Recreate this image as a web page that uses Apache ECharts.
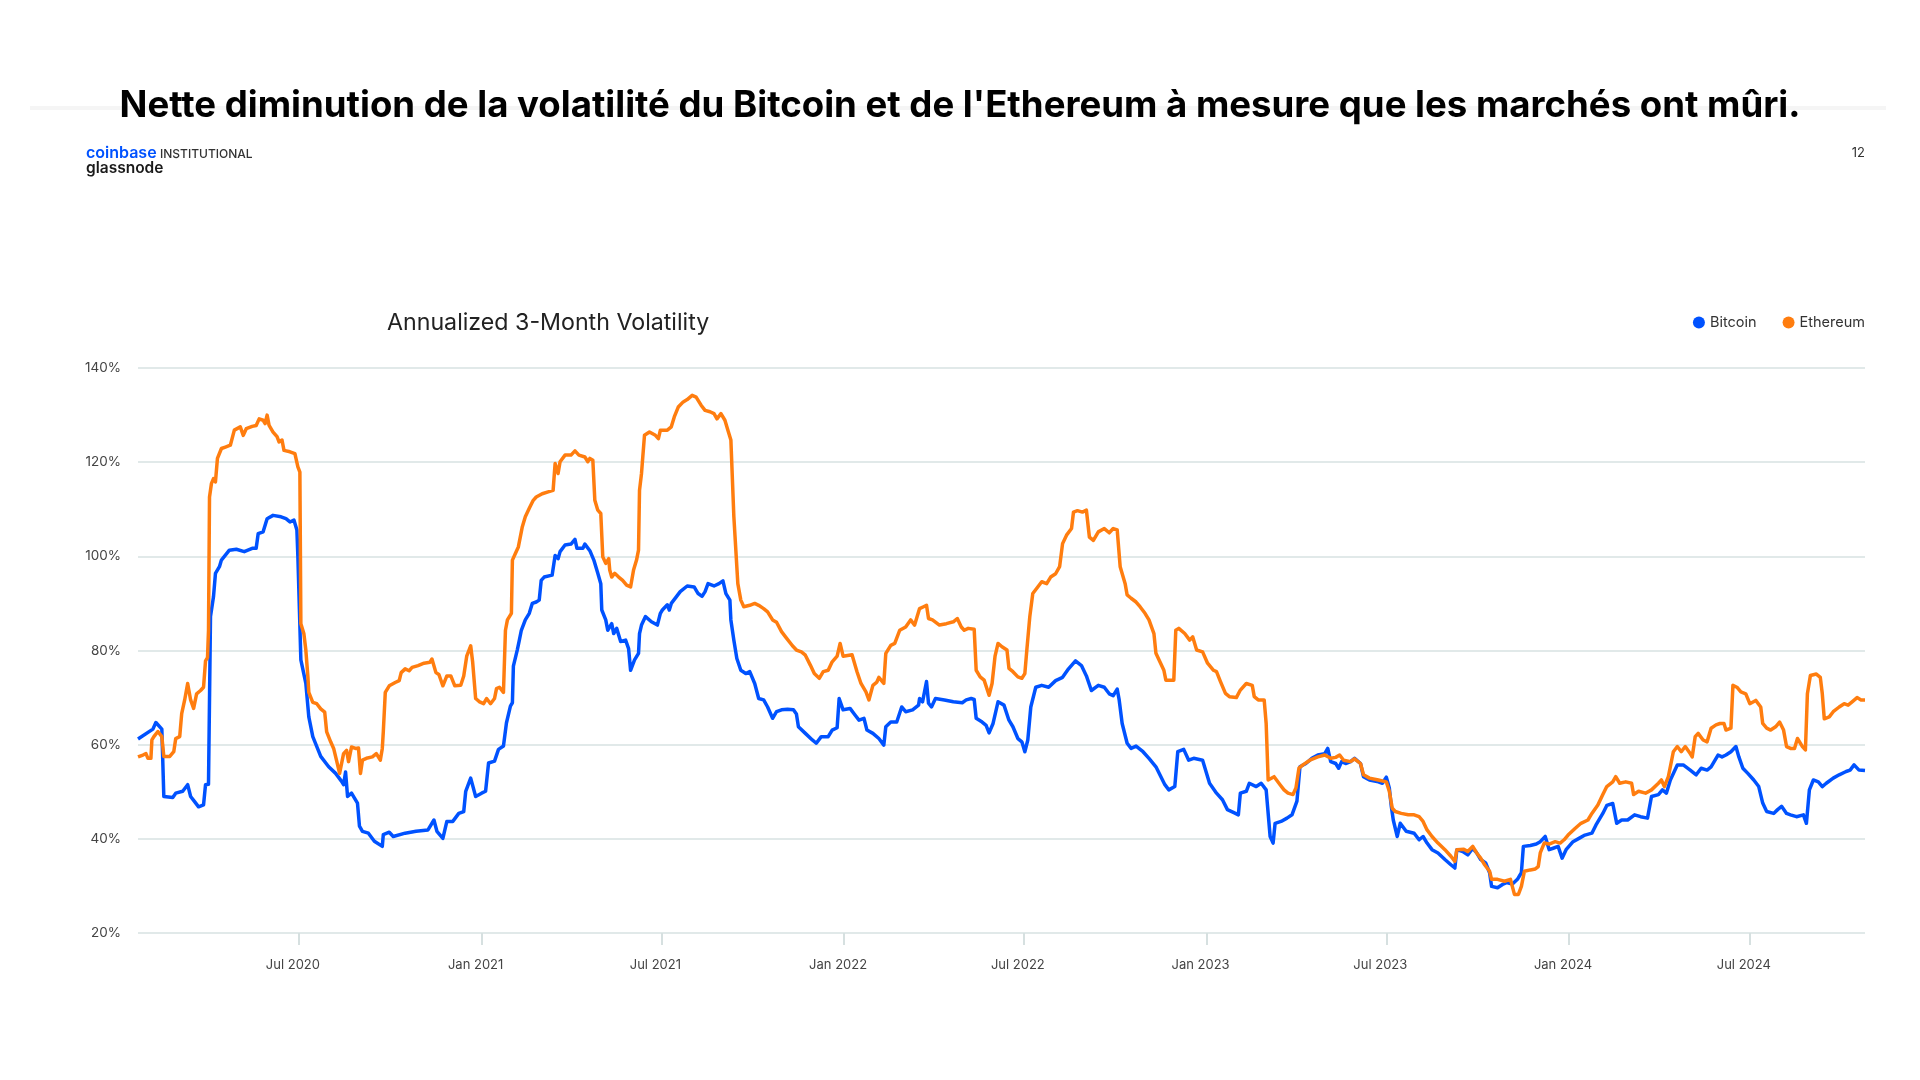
<!DOCTYPE html>
<html>
<head>
<meta charset="utf-8">
<script src="https://cdn.jsdelivr.net/npm/echarts@6/dist/echarts.min.js"></script>
<style>
  html, body { margin: 0; padding: 0; background: #ffffff; }
  #chart { width: 1920px; height: 1080px; }
</style>
</head>
<body>
<div id="chart"></div>
<script>
// ---- Data (x = days since 2020-01-01, y = annualized 3-month volatility in %) ----
const seriesNames = ['Bitcoin', 'Ethereum'];

const bitcoinPoints = [
  [20,61.2],[35,63.3],[38,64.7],[40,64.5],[44,63.3],[46,49.0],[55,48.8],[58,49.7],[65,50.1],[70,51.5],
  [73,49.0],[77,47.9],[81,46.8],[86,47.2],[88,51.5],[91,51.6],[93,87.2],[96,91.4],[98,96.4],[102,97.8],
  [104,99.2],[112,101.3],[119,101.5],[127,101.0],[135,101.7],[139,101.7],[141,104.8],[146,105.2],[150,108.0],[156,108.7],
  [164,108.4],[169,108.0],[173,107.3],[177,107.7],[180,105.6],[181,99.9],[184,78.0],[189,73.0],[192,65.9],[196,61.7],
  [204,57.5],[212,55.3],[219,53.9],[225,52.2],[227,51.5],[229,54.2],[231,49.0],[235,49.7],[241,47.6],[243,42.7],
  [246,41.6],[252,41.2],[258,39.5],[266,38.4],[267,40.9],[273,41.4],[277,40.5],[289,41.2],[300,41.6],[312,41.9],
  [318,44.0],[321,41.6],[327,40.1],[331,43.7],[337,43.7],[343,45.4],[348,45.8],[350,50.1],[355,52.9],[360,49.0],
  [366,49.7],[370,50.1],[373,56.1],[379,56.5],[383,59.0],[388,59.7],[391,64.6],[395,68.2],[397,68.9],[398,76.7],
  [402,80.2],[404,82.2],[406,84.3],[410,86.5],[414,87.9],[417,90.0],[421,90.3],[424,90.7],[426,94.9],[429,95.6],
  [437,96.0],[440,100.2],[443,99.5],[445,101.0],[450,102.4],[456,102.6],[460,103.6],[462,101.7],[468,101.7],[470,102.6],
  [475,101.2],[479,99.2],[483,96.4],[486,94.2],[487,88.6],[491,86.5],[493,84.3],[497,85.7],[499,83.6],[502,84.7],
  [506,81.9],[511,82.2],[514,80.4],[516,75.8],[520,78.0],[524,79.4],[525,83.6],[527,85.4],[531,87.2],[537,86.1],
  [543,85.4],[546,87.9],[548,88.6],[553,89.7],[555,88.6],[557,90.0],[562,91.4],[566,92.5],[573,93.7],[580,93.5],
  [584,92.1],[588,91.5],[591,92.5],[594,94.2],[600,93.7],[605,94.2],[609,94.8],[612,92.1],[616,90.7],[617,86.5],
  [620,82.2],[623,78.3],[627,75.8],[632,75.1],[636,75.5],[641,73.0],[645,69.8],[650,69.5],[654,68.0],[659,65.6],
  [663,67.0],[668,67.4],[674,67.5],[680,67.4],[683,66.5],[685,63.8],[692,62.4],[699,61.0],[703,60.3],[708,61.7],
  [715,61.7],[719,63.1],[724,63.6],[726,69.8],[730,67.4],[737,67.7],[742,66.3],[746,65.2],[751,65.6],[754,63.1],
  [760,62.4],[766,61.3],[771,59.9],[773,63.8],[778,64.8],[784,64.8],[789,68.0],[793,67.0],[800,67.4],[806,68.4],
  [807,69.8],[810,69.1],[814,73.4],[816,68.8],[819,68.0],[823,69.8],[832,69.5],[841,69.1],[850,68.9],[854,69.5],
  [859,69.8],[862,69.6],[864,65.6],[870,64.8],[874,64.1],[877,62.5],[881,64.5],[886,69.1],[892,68.4],[897,65.2],
  [901,63.8],[906,61.3],[910,60.6],[913,58.5],[916,61.0],[919,68.0],[924,72.2],[930,72.6],[937,72.2],[944,73.6],
  [951,74.3],[957,76.1],[964,77.8],[970,76.8],[975,74.6],[980,71.5],[987,72.6],[993,72.2],[998,70.8],[1002,70.4],
  [1006,71.8],[1008,69.5],[1011,64.5],[1016,60.3],[1020,59.2],[1025,59.7],[1032,58.5],[1038,57.1],[1045,55.3],[1049,53.6],
  [1054,51.5],[1058,50.4],[1064,51.1],[1067,58.5],[1073,59.0],[1078,56.7],[1083,57.1],[1092,56.7],[1099,51.8],[1106,49.7],
  [1112,48.3],[1117,46.2],[1124,45.5],[1128,45.1],[1130,49.7],[1136,50.1],[1139,51.8],[1146,51.1],[1151,51.8],[1156,50.4],
  [1160,40.5],[1163,39.1],[1165,43.3],[1171,43.7],[1177,44.4],[1182,45.1],[1187,48.0],[1190,55.3],[1196,56.0],[1202,57.1],
  [1208,57.8],[1215,58.1],[1218,59.2],[1221,56.4],[1226,56.0],[1229,55.0],[1232,56.4],[1236,56.0],[1241,56.4],[1245,57.1],
  [1251,56.0],[1254,53.2],[1260,52.5],[1269,52.1],[1273,51.8],[1277,53.1],[1280,50.8],[1282,46.9],[1284,44.0],[1288,40.5],
  [1291,43.3],[1297,41.6],[1305,41.2],[1310,39.8],[1314,40.5],[1318,39.1],[1323,37.7],[1329,37.0],[1336,35.6],[1342,34.5],
  [1346,33.8],[1348,37.7],[1354,37.3],[1359,36.6],[1364,38.0],[1368,37.0],[1372,35.6],[1377,34.9],[1381,32.8],[1383,29.9],
  [1389,29.6],[1394,30.3],[1398,30.7],[1404,30.4],[1409,31.4],[1413,32.8],[1415,38.4],[1422,38.6],[1428,38.9],[1432,39.4],
  [1437,40.5],[1441,37.7],[1445,38.0],[1450,38.4],[1454,35.9],[1458,37.7],[1465,39.4],[1471,40.1],[1477,40.8],[1484,41.2],
  [1488,42.9],[1495,45.4],[1499,47.1],[1505,47.5],[1509,43.3],[1514,44.0],[1520,44.0],[1527,45.1],[1533,44.7],[1540,44.4],
  [1544,49.0],[1551,49.4],[1555,50.4],[1559,49.7],[1563,52.5],[1570,55.7],[1576,55.7],[1583,54.6],[1589,53.6],[1594,55.0],
  [1600,54.6],[1604,55.3],[1611,57.8],[1615,57.4],[1619,57.8],[1624,58.5],[1629,59.6],[1632,57.4],[1636,55.0],[1641,53.9],
  [1647,52.5],[1652,51.1],[1656,47.6],[1660,45.8],[1667,45.4],[1671,46.2],[1675,46.9],[1680,45.4],[1684,45.1],[1690,44.7],
  [1697,45.1],[1700,43.3],[1703,50.4],[1707,52.5],[1712,52.1],[1716,51.1],[1720,51.8],[1727,52.9],[1733,53.6],[1740,54.3],
  [1744,54.6],[1748,55.7],[1753,54.6],[1759,54.5]
];

const ethereumPoints = [
  [20,57.4],[25,57.8],[28,58.1],[30,57.1],[33,57.1],[34,61.0],[36,61.7],[40,62.8],[42,63.1],[44,61.7],
  [46,57.5],[52,57.5],[56,58.5],[58,61.3],[62,61.7],[64,66.6],[67,69.5],[70,73.0],[73,69.5],[76,67.7],
  [79,70.8],[83,71.5],[86,72.2],[88,77.8],[90,78.5],[91,84.3],[92,112.6],[94,115.5],[96,116.5],[98,115.8],
  [100,120.8],[104,122.9],[108,123.2],[113,123.6],[117,126.8],[123,127.5],[126,125.7],[129,127.1],[135,127.6],[139,127.8],
  [142,129.2],[146,128.9],[148,128.2],[150,130.0],[152,127.8],[156,126.4],[160,125.4],[162,124.3],[165,124.7],[167,122.5],
  [173,122.2],[178,121.8],[181,119.0],[183,117.9],[184,85.7],[187,83.6],[189,80.1],[191,74.6],[192,71.1],[196,69.0],
  [200,68.7],[204,67.6],[208,66.9],[210,62.7],[214,60.6],[217,59.2],[221,55.7],[223,53.9],[227,58.1],[230,58.8],
  [232,56.4],[235,59.5],[239,59.2],[242,59.3],[244,53.9],[246,56.7],[250,57.1],[256,57.4],[260,58.1],[264,56.7],
  [266,59.2],[267,62.7],[269,71.1],[273,72.5],[279,73.2],[283,73.6],[285,75.3],[289,76.1],[293,75.7],[296,76.4],
  [302,76.8],[308,77.3],[314,77.5],[316,78.2],[320,75.3],[323,74.9],[327,72.5],[331,74.6],[335,74.6],[339,72.5],
  [345,72.6],[348,74.6],[351,78.8],[355,81.0],[357,77.5],[360,69.8],[364,69.1],[368,68.7],[371,69.8],[375,68.7],
  [379,69.8],[381,71.9],[384,72.2],[388,71.1],[390,84.3],[392,86.5],[396,87.9],[397,99.2],[400,100.6],[403,102.0],
  [407,106.3],[410,108.4],[414,110.2],[418,111.9],[421,112.6],[427,113.3],[433,113.7],[438,114.0],[440,119.7],[443,117.6],
  [445,120.1],[450,121.5],[456,121.5],[460,122.4],[464,121.5],[470,121.1],[473,120.1],[475,120.8],[478,120.4],[480,111.9],
  [483,109.8],[486,109.1],[488,99.9],[491,98.5],[494,99.5],[495,97.1],[497,95.6],[500,96.4],[504,95.6],[508,94.9],
  [512,93.9],[516,93.5],[519,97.1],[522,99.2],[524,101.3],[525,114.0],[527,117.6],[530,125.7],[535,126.4],[541,125.7],
  [544,125.0],[546,126.8],[553,126.8],[557,127.5],[560,129.6],[564,131.7],[569,132.8],[573,133.3],[578,134.2],[582,133.8],
  [587,132.1],[591,131.0],[596,130.7],[600,130.3],[603,129.2],[607,130.3],[611,128.9],[614,126.8],[617,124.7],[620,108.4],
  [624,94.2],[627,90.7],[630,89.3],[636,89.6],[641,90.0],[645,89.6],[650,88.9],[654,88.2],[659,86.5],[663,86.0],
  [668,84.0],[672,82.9],[679,81.0],[683,80.1],[688,79.7],[692,79.0],[697,76.9],[701,75.1],[706,74.1],[710,75.5],
  [715,75.8],[719,77.6],[724,78.8],[727,81.5],[730,78.8],[739,79.1],[744,75.5],[748,73.0],[753,71.2],[756,69.5],
  [760,72.6],[764,73.3],[766,74.3],[771,73.0],[773,79.4],[778,81.1],[782,81.5],[787,84.3],[793,85.0],[798,86.5],
  [802,85.4],[807,88.9],[811,89.3],[814,89.6],[816,86.8],[820,86.5],[827,85.4],[834,85.7],[841,86.1],[845,86.8],
  [849,85.0],[852,84.3],[856,84.7],[862,84.5],[864,75.8],[868,74.4],[872,73.7],[877,70.5],[880,73.0],[883,78.8],
  [886,81.5],[890,80.8],[895,80.1],[897,76.2],[901,75.5],[906,74.4],[910,74.1],[913,75.1],[915,80.1],[918,87.2],
  [921,92.1],[926,93.5],[930,94.6],[935,94.2],[939,95.6],[944,96.3],[948,97.8],[951,102.7],[955,104.5],[960,105.9],
  [962,109.4],[966,109.7],[971,109.4],[975,109.8],[978,104.1],[982,103.4],[987,105.2],[993,105.9],[998,105.0],[1002,105.9],
  [1006,105.6],[1009,97.8],[1014,94.2],[1016,91.8],[1020,91.1],[1025,90.3],[1029,89.3],[1034,87.9],[1038,86.5],[1043,83.6],
  [1045,79.4],[1049,77.6],[1053,75.8],[1055,73.7],[1063,73.7],[1065,84.3],[1068,84.7],[1074,83.6],[1079,82.2],[1082,82.9],
  [1086,80.1],[1092,79.7],[1097,77.3],[1103,75.8],[1106,75.5],[1110,73.4],[1115,70.9],[1119,70.2],[1126,70.0],[1130,71.6],
  [1136,73.0],[1142,72.6],[1144,70.2],[1148,69.5],[1154,69.5],[1156,64.5],[1158,52.5],[1164,53.2],[1170,51.5],[1174,50.4],
  [1178,49.7],[1183,49.4],[1186,50.8],[1189,55.0],[1193,55.7],[1200,56.7],[1208,57.4],[1215,57.8],[1221,57.1],[1226,57.3],
  [1230,57.8],[1234,56.7],[1241,56.4],[1245,57.0],[1251,56.0],[1254,53.6],[1260,52.9],[1269,52.5],[1277,52.1],[1280,50.1],
  [1283,46.5],[1286,45.8],[1292,45.4],[1299,45.1],[1305,45.1],[1310,44.7],[1314,43.7],[1318,41.9],[1323,40.5],[1329,39.1],
  [1336,37.7],[1342,36.3],[1346,35.2],[1348,37.7],[1355,37.8],[1359,37.3],[1364,38.4],[1368,37.0],[1372,35.9],[1376,34.5],
  [1381,33.1],[1383,31.4],[1389,31.4],[1396,31.0],[1402,31.4],[1406,28.2],[1410,28.2],[1413,29.9],[1416,33.1],[1422,33.4],
  [1427,33.6],[1430,34.1],[1432,37.0],[1436,39.1],[1441,38.9],[1447,39.4],[1452,39.1],[1456,39.8],[1460,40.8],[1467,42.2],
  [1473,43.3],[1480,44.0],[1484,45.4],[1490,47.2],[1495,49.4],[1499,51.1],[1505,52.1],[1508,53.2],[1512,51.8],[1518,52.1],
  [1524,51.8],[1526,49.4],[1531,50.1],[1538,49.7],[1544,50.4],[1551,51.8],[1554,52.5],[1557,51.1],[1561,53.2],[1566,58.5],
  [1570,59.6],[1574,58.5],[1578,59.6],[1583,58.1],[1585,57.4],[1588,61.7],[1591,62.4],[1596,61.0],[1600,60.6],[1604,63.5],
  [1609,64.2],[1613,64.5],[1617,64.5],[1619,63.1],[1624,63.5],[1626,72.6],[1630,72.2],[1634,71.2],[1639,70.8],[1643,68.7],
  [1649,69.4],[1654,68.0],[1656,64.5],[1660,63.5],[1664,63.1],[1669,63.8],[1673,64.8],[1677,63.1],[1680,59.6],[1684,59.2],
  [1688,59.2],[1691,61.3],[1696,59.6],[1699,58.9],[1701,70.8],[1704,74.7],[1710,75.0],[1714,74.3],[1716,70.8],[1718,65.5],
  [1723,65.9],[1727,67.0],[1733,68.0],[1738,68.7],[1742,68.4],[1746,69.1],[1751,70.0],[1755,69.5],[1759,69.5]
];

// x-axis tick dates and their labels
const tickDates = ['2020-07-01','2021-01-01','2021-07-01','2022-01-01','2022-07-01','2023-01-01','2023-07-01','2024-01-01','2024-07-01'];
const tickLabels = ['Jul 2020','Jan 2021','Jul 2021','Jan 2022','Jul 2022','Jan 2023','Jul 2023','Jan 2024','Jul 2024'];
const axisStartDay = 20;   // 2020-01-21
const axisEndDay = 1759;   // 2024-10-25

// y-axis
const yMin = 20, yMax = 140, yStep = 20;

// ---- Helpers ----
const BASE = Date.UTC(2020, 0, 1);
const DAY_MS = 86400000;
const tickDays = tickDates.map(s => Math.round((Date.parse(s + 'T00:00:00Z') - BASE) / DAY_MS));
const labelFor = v => {
  for (let i = 0; i < tickDays.length; i++) {
    if (Math.abs(tickDays[i] - v) < 0.5) return tickLabels[i];
  }
  return '';
};

const FONT = 'Inter, "Noto Sans", sans-serif';
const BLUE = '#0052ff';
const ORANGE = '#ff7d0f';

const chart = echarts.init(document.getElementById('chart'), null, { renderer: 'canvas' });

chart.setOption({
  animation: false,
  backgroundColor: '#ffffff',
  textStyle: { fontFamily: FONT },
  title: [{
    text: "Nette diminution de la volatilité du Bitcoin et de l'Ethereum à mesure que les marchés ont mûri.",
    left: 'center',
    top: 82,
    textStyle: { fontFamily: FONT, fontWeight: 700, fontSize: 36.6, color: '#000000' }
  }],
  graphic: [
    { type: 'rect', silent: true, z: -1, shape: { x: 30, y: 106, width: 1856, height: 4 }, style: { fill: '#f5f5f5' } },
    { type: 'text', left: 86, top: 145, style: { text: 'coinbase', font: '600 16px ' + FONT, fill: BLUE } },
    { type: 'text', left: 160, top: 148, style: { text: 'INSTITUTIONAL', font: '500 12px ' + FONT, fill: '#333333' } },
    { type: 'text', left: 86, top: 160, style: { text: 'glassnode', font: '600 15.5px ' + FONT, fill: '#1a1a1a' } },
    { type: 'text', right: 55, top: 147, style: { text: '12', font: '400 13px ' + FONT, fill: '#333333' } },
    { type: 'text', left: 387, top: 312, style: { text: 'Annualized 3-Month Volatility', font: '400 23.2px ' + FONT, fill: '#222222' } }
  ],
  legend: {
    data: seriesNames,
    right: 50,
    top: 310,
    icon: 'circle',
    itemWidth: 12,
    itemHeight: 12,
    itemGap: 26,
    textStyle: { fontFamily: FONT, fontSize: 14.5, color: '#333333' }
  },
  grid: { left: 138, right: 55, top: 368, bottom: 147, containLabel: false, outerBoundsMode: 'none' },
  xAxis: {
    type: 'value',
    min: axisStartDay,
    max: axisEndDay,
    axisLine: { show: false },
    splitLine: { show: false },
    axisTick: {
      show: true,
      customValues: tickDays,
      length: 12,
      lineStyle: { color: '#d6e0e0', width: 2 }
    },
    axisLabel: {
      customValues: tickDays,
      formatter: labelFor,
      margin: 26,
      padding: [0, 12, 0, 0],
      fontFamily: FONT,
      fontSize: 13,
      color: '#444444'
    }
  },
  yAxis: {
    type: 'value',
    min: yMin,
    max: yMax,
    interval: yStep,
    axisLine: { show: false },
    axisTick: { show: false },
    axisLabel: { formatter: '{value}%', margin: 17, fontFamily: FONT, fontSize: 13.5, color: '#444444' },
    splitLine: { lineStyle: { color: '#e1e9e9', width: 2 } }
  },
  series: [
    {
      name: seriesNames[0],
      type: 'line',
      showSymbol: false,
      color: BLUE,
      lineStyle: { width: 3.5, color: BLUE, join: 'round' },
      data: bitcoinPoints
    },
    {
      name: seriesNames[1],
      type: 'line',
      showSymbol: false,
      color: ORANGE,
      lineStyle: { width: 3.5, color: ORANGE, join: 'round' },
      data: ethereumPoints
    }
  ]
});
</script>
</body>
</html>
